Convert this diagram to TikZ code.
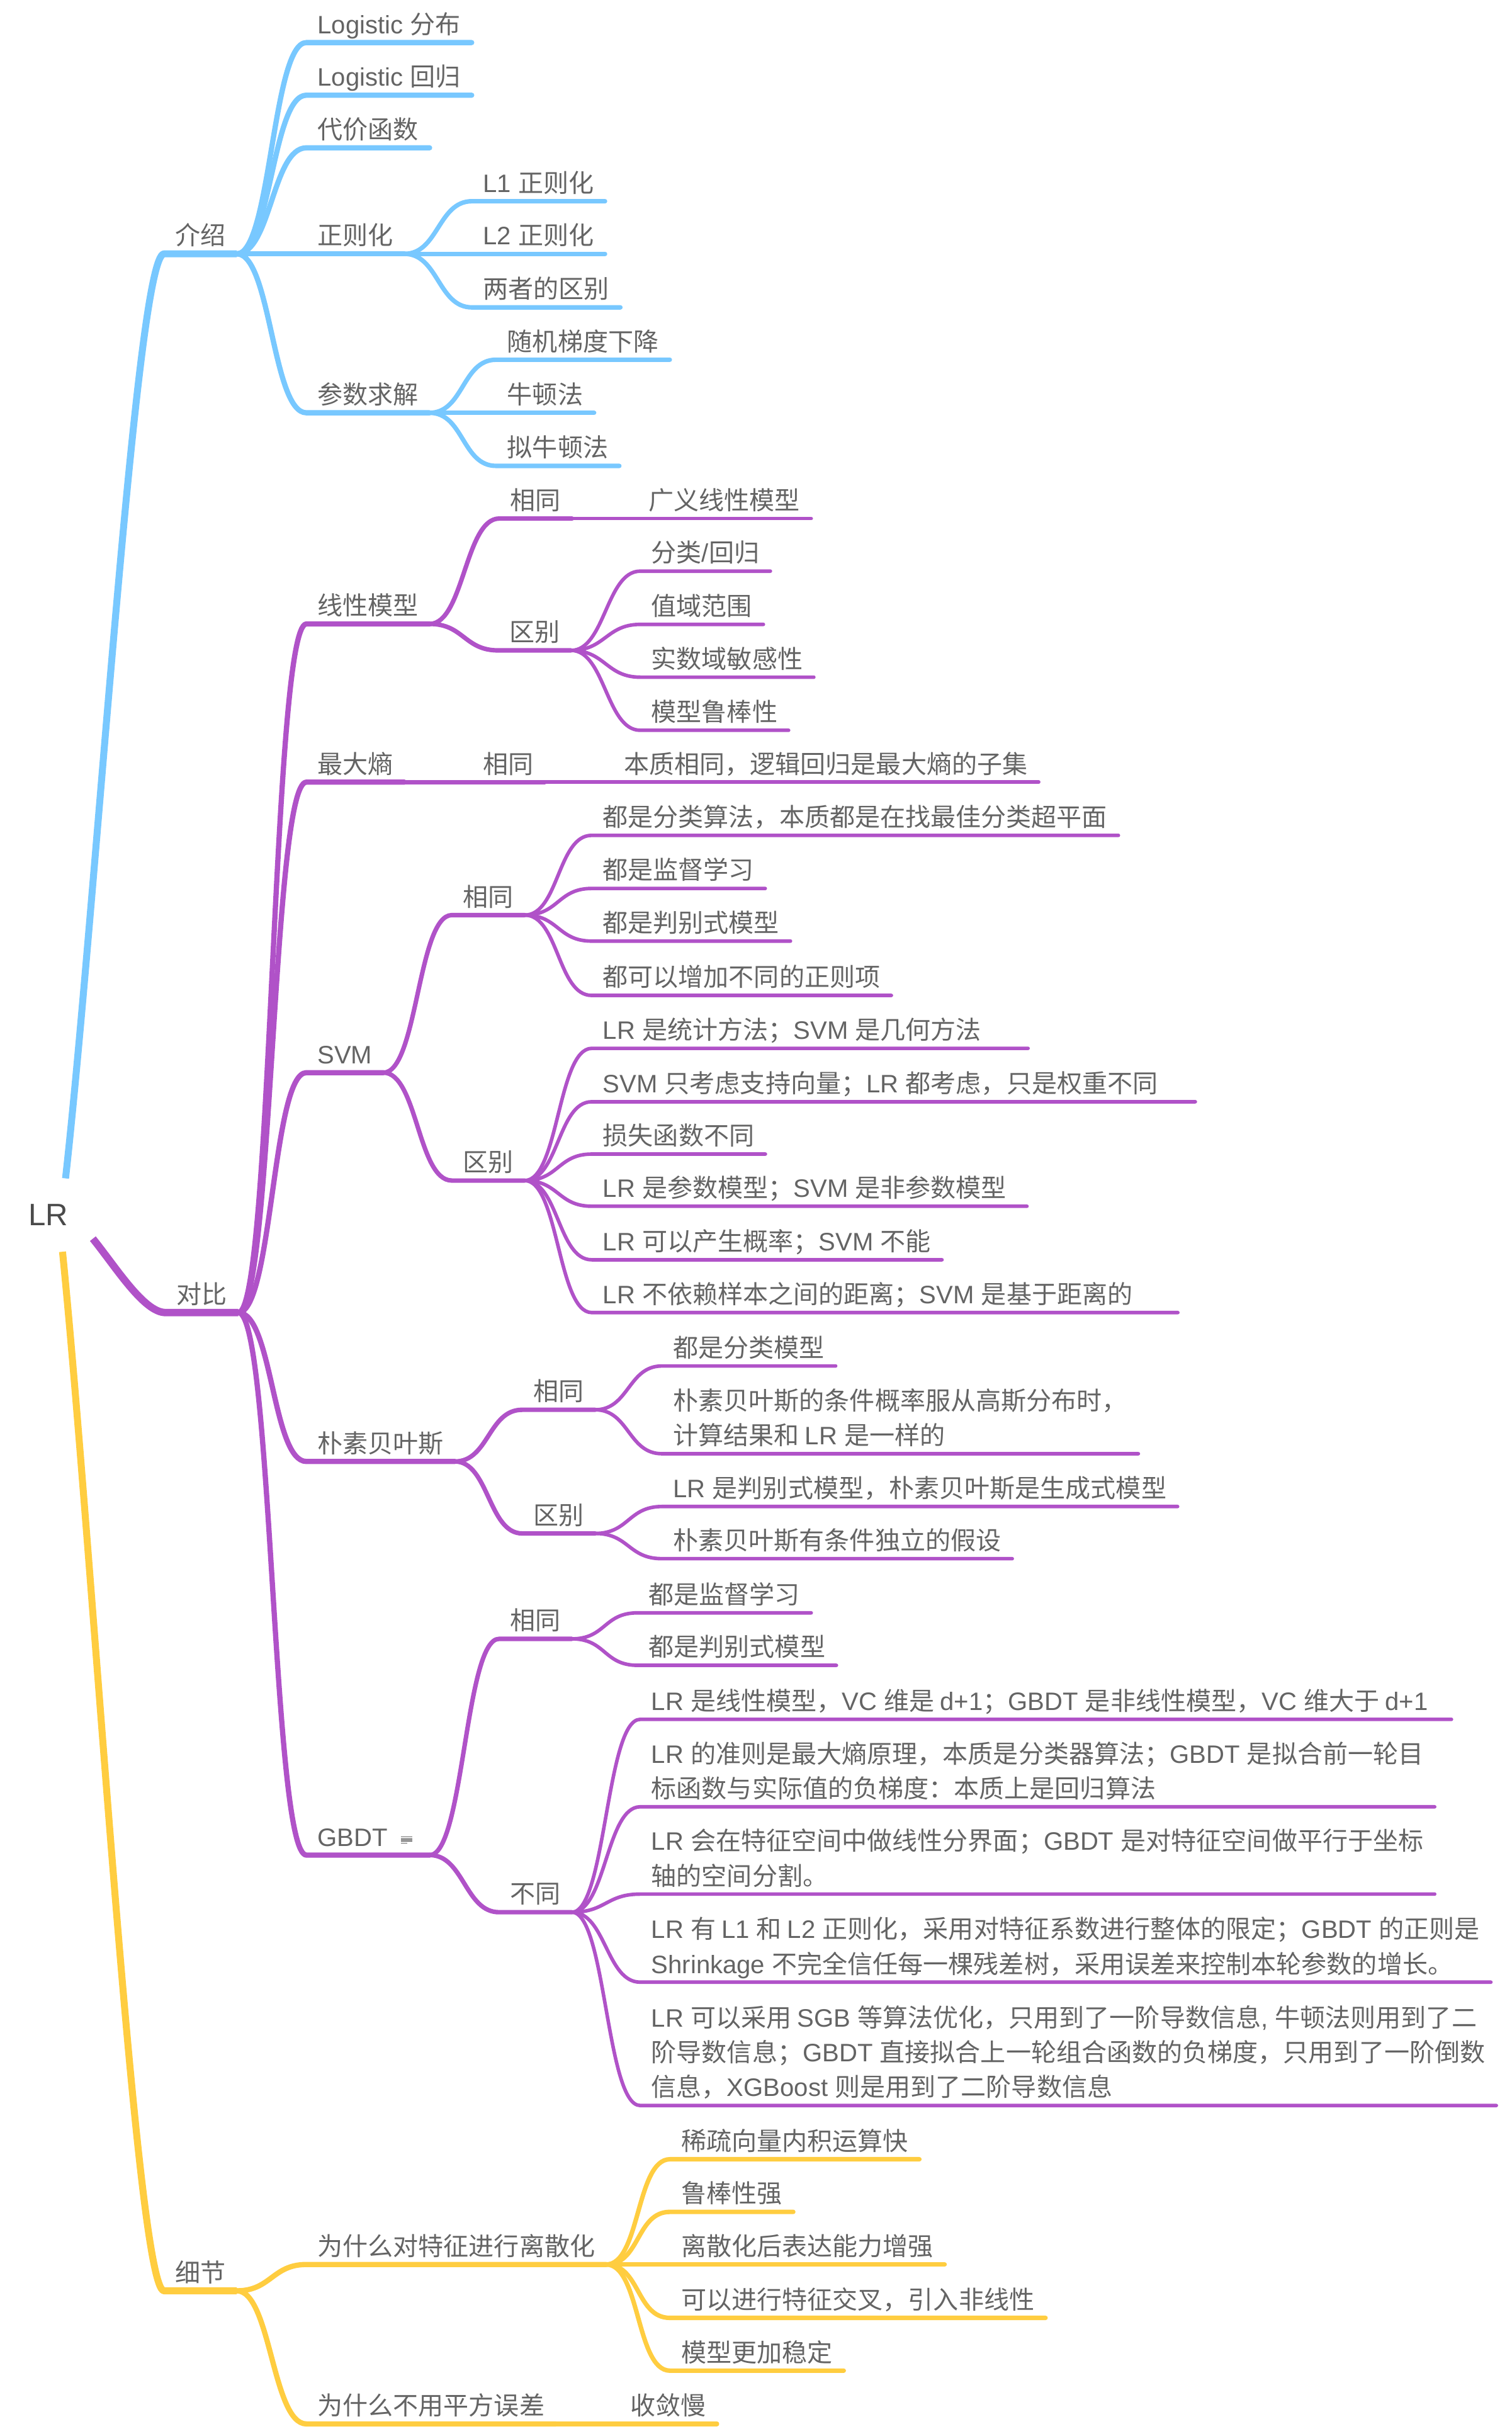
\documentclass[tikz,border=0pt]{standalone}
\usepackage{fontspec}
\setmainfont{Liberation Sans}
\newfontfamily\latinfont{Liberation Sans}
\newfontfamily\cjkfont{Noto Sans CJK SC}
\usetikzlibrary{positioning}

\definecolor{introblue}{RGB}{120,200,255}
\definecolor{cmppurple}{RGB}{176,82,200}
\definecolor{detailyellow}{RGB}{255,205,64}
\definecolor{labelgray}{RGB}{100,100,100}
\definecolor{rootgray}{RGB}{74,74,74}

% Chinese characters are set in the CJK font, the rest in the Latin one
\ifdefined\newXeTeXintercharclass \newXeTeXintercharclass\cjkclass \else \chardef\cjkclass=7 \fi
\newcount\cjkcode
\def\markcjk#1#2{\cjkcode=#1\relax
  \loop\XeTeXcharclass\cjkcode=\cjkclass
  \ifnum\cjkcode<#2\relax\advance\cjkcode by 1\repeat}
\markcjk{"3000}{"303F}
\markcjk{"4E00}{"9FFF}
\markcjk{"FF00}{"FFEF}
\XeTeXinterchartoks 0 \cjkclass = {\cjkfont}
\XeTeXinterchartoks 4095 \cjkclass = {\cjkfont}
\XeTeXinterchartoks \cjkclass 0 = {\latinfont}
\XeTeXinterchartoks 4095 0 = {\latinfont}
\XeTeXinterchartokenstate=1

\begin{document}
\begin{tikzpicture}[x=1pt,y=-1pt]
  \tikzset{topic/.style={anchor=south west, inner xsep=7pt, inner ysep=5.6pt, text depth=0pt,
      align=left, text=labelgray, font=\fontsize{16.3}{22.5}\selectfont}}
  \tikzset{root/.style={rectangle, minimum width=57pt, minimum height=47pt, inner sep=0pt,
      text=rootgray, font=\fontsize{20}{24}\selectfont}}
  \tikzset{fork/.style={to path={.. controls +(22,0) and +(-22,0) .. (\tikztotarget.south west) -- (\tikztotarget.south east)}}}
  \tikzset{wire/.style={line cap=round, line join=round}}
  \tikzset{lvl1/.style={line cap=butt, line join=round, line width=4.5pt},
    lvl2/.style={wire, line width=3.4pt}, lvl3/.style={wire, line width=2.9pt},
    lvl4/.style={wire, line width=2.3pt}}
  \useasboundingbox (0,0) rectangle (977,1569.3);

  \node[root] (lr) at (31.3,785) {LR};

  % intro
  \node[topic] (intro) at (106,164) {介绍};
  \node[topic] (ldist) at (198,27.5) {Logistic 分布};
  \node[topic] (lreg) at (198,61.5) {Logistic 回归};
  \node[topic] (cost) at (198,95.5) {代价函数};
  \node[topic] (reg) at (198,164) {正则化};
  \node[topic] (lone) at (305,130) {L1 正则化};
  \node[topic] (ltwo) at (305,164) {L2 正则化};
  \node[topic] (both) at (305,198.6) {两者的区别};
  \node[topic] (solve) at (198,266.7) {参数求解};
  \node[topic] (sgd) at (320.6,232.4) {随机梯度下降};
  \node[topic] (newton) at (320.6,266.7) {牛顿法};
  \node[topic] (qnewton) at (320.6,301) {拟牛顿法};

  % compare
  \node[topic] (cmp) at (107,848) {对比};
  \node[topic] (linear) at (198,403.1) {线性模型};
  \node[topic] (lsame) at (322.6,335) {相同};
  \node[topic] (glm) at (412,335) {广义线性模型};
  \node[topic] (ldiff) at (322,420.2) {区别};
  \node[topic] (task) at (413.7,369) {分类/回归};
  \node[topic] (range) at (413.7,403.4) {值域范围};
  \node[topic] (sens) at (413.7,437.5) {实数域敏感性};
  \node[topic] (robust) at (413.7,471.8) {模型鲁棒性};

  \node[topic] (maxent) at (198,505.3) {最大熵};
  \node[topic] (msame) at (305,505.3) {相同};
  \node[topic] (essence) at (396,505.3) {本质相同，逻辑回归是最大熵的子集};

  \node[topic] (svm) at (198,693) {SVM};
  \node[topic] (ssame) at (292,591.2) {相同};
  \node[topic] (sa) at (382.3,539.7) {都是分类算法，本质都是在找最佳分类超平面};
  \node[topic] (sb) at (382.3,574) {都是监督学习};
  \node[topic] (sc) at (382.3,608) {都是判别式模型};
  \node[topic] (sd) at (382.3,643.1) {都可以增加不同的正则项};
  \node[topic] (sdiff) at (292,762.7) {区别};
  \node[topic] (da) at (382.4,677.3) {LR 是统计方法；SVM 是几何方法\hspace{23pt}};
  \node[topic] (db) at (382.4,711.8) {SVM 只考虑支持向量；LR 都考虑，只是权重不同\hspace{17pt}};
  \node[topic] (dc) at (382.4,745.6) {损失函数不同};
  \node[topic] (dd) at (382.4,779.3) {LR 是参数模型；SVM 是非参数模型\hspace{6pt}};
  \node[topic] (de) at (382.4,813.9) {LR 可以产生概率；SVM 不能};
  \node[topic] (df) at (382.4,848) {LR 不依赖样本之间的距离；SVM 是基于距离的\hspace{22pt}};

  \node[topic] (nb) at (198,944.2) {朴素贝叶斯};
  \node[topic] (nsame) at (337.5,910.8) {相同};
  \node[topic] (na) at (427.8,882.5) {都是分类模型};
  \node[topic] (nbb) at (427.8,939.2) {朴素贝叶斯的条件概率服从高斯分布时，\hspace{5pt}\\计算结果和 LR 是一样的};
  \node[topic] (ndiff) at (337.5,990.7) {区别};
  \node[topic] (nc) at (427.8,973.3) {LR 是判别式模型，朴素贝叶斯是生成式模型};
  \node[topic] (nd) at (427.8,1007) {朴素贝叶斯有条件独立的假设};

  \node[topic] (gbdt) at (198,1198.5) {GBDT\hspace{20pt}};
  \node[topic] (gsame) at (322.5,1058.8) {相同};
  \node[topic] (ga) at (412,1042) {都是监督学习};
  \node[topic] (gb) at (412,1075.9) {都是判别式模型};
  \node[topic] (gdiff) at (322.5,1235.4) {不同};
  \node[topic] (ha) at (413.7,1110.8) {LR 是线性模型，VC 维是 d+1；GBDT 是非线性模型，VC 维大于 d+1\hspace{8pt}};
  \node[topic] (hb) at (413.7,1167.3) {LR 的准则是最大熵原理，本质是分类器算法；GBDT 是拟合前一轮目\hspace{4pt}\\标函数与实际值的负梯度：本质上是回归算法};
  \node[topic] (hc) at (413.7,1223.7) {LR 会在特征空间中做线性分界面；GBDT 是对特征空间做平行于坐标\hspace{8pt}\\轴的空间分割。};
  \node[topic] (hd) at (413.7,1280.6) {LR 有 L1 和 L2 正则化，采用对特征系数进行整体的限定；GBDT 的正则是\hspace{14pt}\\Shrinkage 不完全信任每一棵残差树，采用误差来控制本轮参数的增长。};
  \node[topic] (he) at (413.7,1360.3) {LR 可以采用 SGB 等算法优化，只用到了一阶导数信息, 牛顿法则用到了二\hspace{10pt}\\阶导数信息；GBDT 直接拟合上一轮组合函数的负梯度，只用到了一阶倒数\\信息，XGBoost 则是用到了二阶导数信息};

  % details
  \node[topic] (detail) at (106,1480) {细节};
  \node[topic] (disc) at (198,1463) {为什么对特征进行离散化};
  \node[topic] (ya) at (433,1395) {稀疏向量内积运算快};
  \node[topic] (yb) at (433,1429) {鲁棒性强};
  \node[topic] (yc) at (433,1463) {离散化后表达能力增强};
  \node[topic] (yd) at (433,1497.5) {可以进行特征交叉，引入非线性};
  \node[topic] (ye) at (433,1531.6) {模型更加稳定};
  \node[topic] (mse) at (198,1566) {为什么不用平方误差};
  \node[topic] (slow) at (400,1566) {收敛慢};

  % note mark next to GBDT
  \foreach \dy/\len in {-11.7/7.5,-10.4/7.5,-9.1/7.5,-7.8/4.1}
    \draw[labelgray, line width=0.6pt] ([shift={(-18.7,\dy)}]gbdt.south east) -- +(\len,0);

  % main branches
  \draw[lvl1, introblue] (lr.65) .. controls +(20,-180) and +(-18,0) .. (intro.south west) -- (intro.south east);
  \draw[lvl1, cmppurple, line width=4.8pt] (lr.-28) .. controls +(15,18.6) and +(-14,0) .. (cmp.south west) -- (cmp.south east);
  \draw[lvl1, detailyellow] (lr.-69) .. controls +(20,200) and +(-18,0) .. (detail.south west) -- (detail.south east);

  % intro branches
  \foreach \kid in {ldist,lreg,cost,reg,solve}
    \draw[lvl2, introblue] (intro.south east) to[fork] (\kid);
  \foreach \kid in {lone,ltwo,both}
    \draw[lvl3, introblue] (reg.south east) to[fork] (\kid);
  \foreach \kid in {sgd,newton,qnewton}
    \draw[lvl3, introblue] (solve.south east) to[fork] (\kid);

  % compare branches
  \foreach \kid in {linear,maxent,svm,nb,gbdt}
    \draw[lvl2, cmppurple] (cmp.south east) to[fork] (\kid);
  \foreach \up/\kid in {linear/lsame,linear/ldiff,maxent/msame,svm/ssame,svm/sdiff,nb/nsame,nb/ndiff,gbdt/gsame,gbdt/gdiff}
    \draw[lvl3, cmppurple] (\up.south east) to[fork] (\kid);
  \foreach \up/\kid in {lsame/glm,ldiff/task,ldiff/range,ldiff/sens,ldiff/robust,msame/essence,
      ssame/sa,ssame/sb,ssame/sc,ssame/sd,sdiff/da,sdiff/db,sdiff/dc,sdiff/dd,sdiff/de,sdiff/df,
      nsame/na,nsame/nbb,ndiff/nc,ndiff/nd,gsame/ga,gsame/gb,gdiff/ha,gdiff/hb,gdiff/hc,gdiff/hd,gdiff/he}
    \draw[lvl4, cmppurple] (\up.south east) to[fork] (\kid);

  % detail branches
  \foreach \kid in {disc,mse}
    \draw[lvl2, detailyellow] (detail.south east) to[fork] (\kid);
  \foreach \up/\kid in {disc/ya,disc/yb,disc/yc,disc/yd,disc/ye,mse/slow}
    \draw[lvl3, detailyellow] (\up.south east) to[fork] (\kid);
\end{tikzpicture}
\end{document}
